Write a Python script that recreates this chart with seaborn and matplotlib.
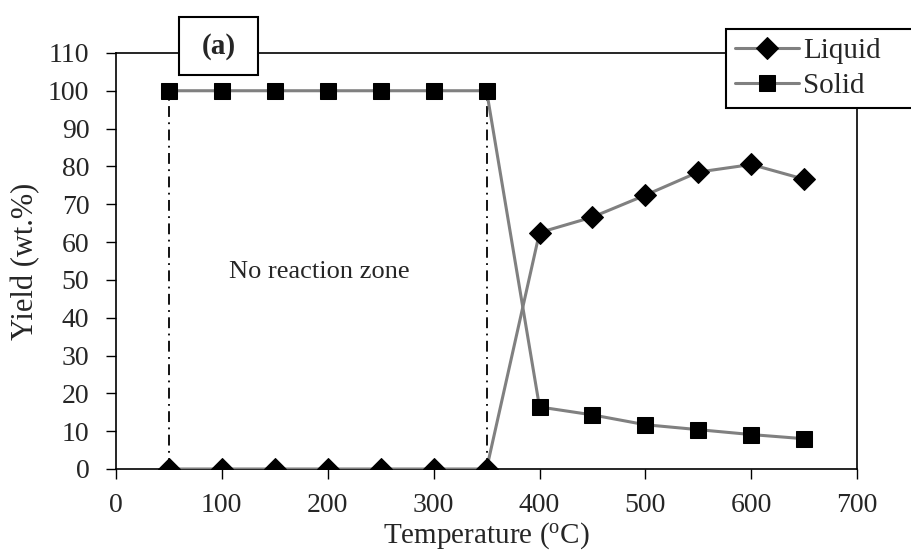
import matplotlib
matplotlib.use("Agg")
import matplotlib.pyplot as plt
from matplotlib.patches import Rectangle
import seaborn as sns
import pandas as pd

temperature = [50, 100, 150, 200, 250, 300, 350, 400, 450, 500, 550, 600, 650]
liquid = [0, 0, 0, 0, 0, 0, 0, 62.5, 66.6, 72.4, 78.5, 80.5, 76.6]
solid = [100, 100, 100, 100, 100, 100, 100, 16.4, 14.3, 11.7, 10.4, 9.1, 8.0]
x_ticks = [0, 100, 200, 300, 400, 500, 600, 700]
y_ticks = [0, 10, 20, 30, 40, 50, 60, 70, 80, 90, 100, 110]
zone_bounds = [50, 350]

sns.set_style("white")
plt.rcParams['font.family'] = ['Liberation Serif', 'DejaVu Serif']

df = pd.DataFrame({"Temperature": temperature, "Liquid": liquid, "Solid": solid})

fig = plt.figure(figsize=(9.12, 5.57), dpi=100)
ax = fig.add_axes([0.127, 0.158, 0.813, 0.747])

for zb in zone_bounds:
    ax.plot([zb, zb], [0, 100], color='black', lw=1.3, ls=(0, (6, 3, 1, 3)), zorder=1)

sns.lineplot(data=df, x="Temperature", y="Solid", ax=ax, color='#808080', lw=2.2,
             marker='s', markersize=12, markerfacecolor='black', markeredgecolor='black',
             label="Solid", zorder=3)
sns.lineplot(data=df, x="Temperature", y="Liquid", ax=ax, color='#808080', lw=2.2,
             marker='D', markersize=11, markerfacecolor='black', markeredgecolor='black',
             label="Liquid", zorder=3)

ax.set_xlim(0, 700)
ax.set_ylim(0, 110)
ax.set_xticks(x_ticks)
ax.set_yticks(y_ticks)
ax.tick_params(axis='both', labelsize=20, length=7, width=1, direction='out', color='black', pad=12)
ax.tick_params(axis='x', pad=10)
ax.xaxis.set_ticks_position('bottom')
ax.yaxis.set_ticks_position('left')
for s in ax.spines.values():
    s.set_color('black')
    s.set_linewidth(1.2)
ax.set_xlabel("Temperature ($\\mathregular{^o}$C)", fontsize=21, labelpad=2)
ax.set_ylabel("Yield (wt.%)", fontsize=22, labelpad=6)

ax.text(192, 52, "No reaction zone", fontsize=19, ha='center', va='center')

# "(a)" panel label box
fig.patches.append(Rectangle((179 / 912, 1 - 75 / 557), 79 / 912, 58 / 557,
                             transform=fig.transFigure, fc='white', ec='black', lw=1.5, zorder=9))
fig.text(218.5 / 912, 1 - 46 / 557, "(a)", fontsize=21, fontweight='bold', ha='center', va='center',
         zorder=10)

handles, labels = ax.get_legend_handles_labels()
order = [labels.index("Liquid"), labels.index("Solid")]
if ax.legend_:
    ax.legend_.remove()
leg = fig.legend([handles[i] for i in order], [labels[i] for i in order],
                 loc='upper left', bbox_to_anchor=(726 / 912, 1 - 29 / 557, 0.22, 0.0),
                 mode='expand', fontsize=21,
                 frameon=True, fancybox=False, edgecolor='black', framealpha=1,
                 handlelength=2.2, handletextpad=0.15, borderpad=0.3, labelspacing=0.3,
                 borderaxespad=0)
leg.get_frame().set_linewidth(1.5)
leg.set_zorder(10)

fig.savefig("out.png", dpi=100)
